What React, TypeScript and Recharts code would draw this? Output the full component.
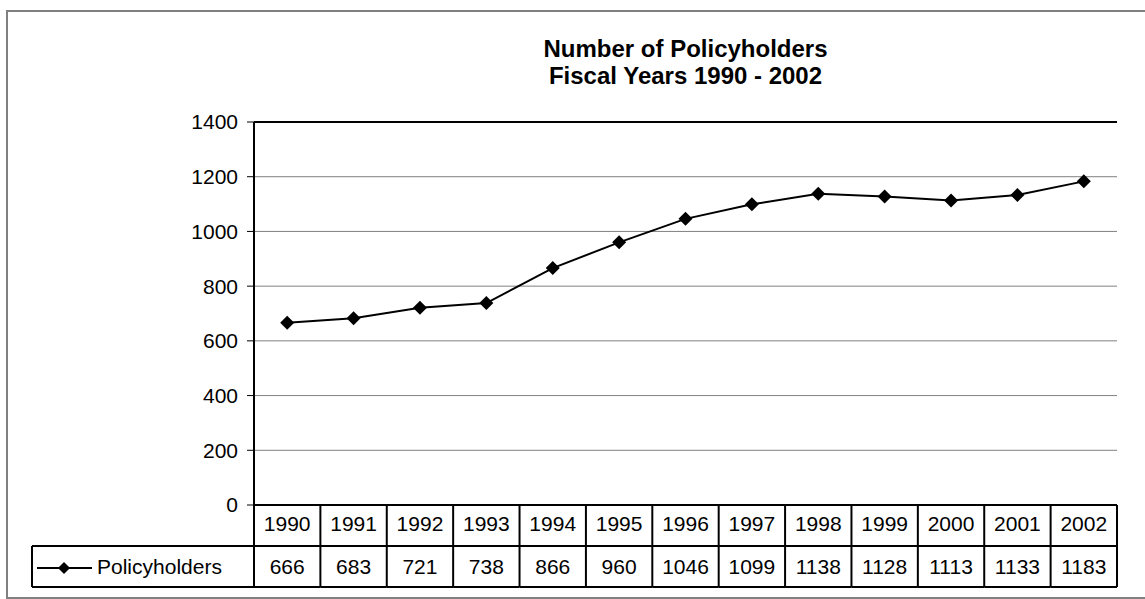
import React from "react";
import {
  LineChart,
  Line,
  XAxis,
  YAxis,
  CartesianGrid,
  ReferenceLine,
} from "recharts";

const years = ["1990", "1991", "1992", "1993", "1994", "1995", "1996", "1997", "1998", "1999", "2000", "2001", "2002"];
const policyholders = [666, 683, 721, 738, 866, 960, 1046, 1099, 1138, 1128, 1113, 1133, 1183];
const yTicks = [0, 200, 400, 600, 800, 1000, 1200, 1400];
const seriesName = "Policyholders";

const data = years.map((y, i) => ({ year: y, value: policyholders[i] }));

const W = 1145;
const H = 599;
const PLOT_LEFT = 254;
const PLOT_RIGHT = 1117;
const PLOT_TOP = 122;
const PLOT_BOTTOM = 505;
const BAND = (PLOT_RIGHT - PLOT_LEFT) / years.length;
const ROW_H = 41;
const LEGEND_LEFT = 32;
const FONT = "'Liberation Sans', Arial, sans-serif";

function Diamond({ cx, cy, r = 7 }: { cx: number; cy: number; r?: number }) {
  return <path d={`M${cx},${cy - r}L${cx + r},${cy}L${cx},${cy + r}L${cx - r},${cy}Z`} fill="#000" />;
}

// draws one column of the data table under each category
function TableTick(props: any) {
  const { x, y, payload, index } = props;
  const left = x - BAND / 2;
  const right = x + BAND / 2;
  const top = y;
  const mid = y + ROW_H;
  const bottom = y + ROW_H * 2;
  return (
    <g>
      {index === 0 && (
        <g>
          <line x1={left} y1={top} x2={left} y2={bottom} stroke="#000" strokeWidth={2} />
          <line x1={LEGEND_LEFT} y1={mid} x2={left} y2={mid} stroke="#000" strokeWidth={2} />
          <line x1={LEGEND_LEFT} y1={bottom} x2={left} y2={bottom} stroke="#000" strokeWidth={2} />
          <line x1={LEGEND_LEFT} y1={mid} x2={LEGEND_LEFT} y2={bottom} stroke="#000" strokeWidth={2} />
          <line x1={37} y1={mid + 22} x2={92} y2={mid + 22} stroke="#000" strokeWidth={2} />
          <Diamond cx={64} cy={mid + 22} r={6} />
          <text x={97} y={mid + 28} fontSize={21} fontFamily={FONT} fill="#000">
            {seriesName}
          </text>
        </g>
      )}
      <line x1={right} y1={top} x2={right} y2={bottom} stroke="#000" strokeWidth={2} />
      <line x1={left} y1={mid} x2={right} y2={mid} stroke="#000" strokeWidth={2} />
      <line x1={left} y1={bottom} x2={right} y2={bottom} stroke="#000" strokeWidth={2} />
      <text x={x} y={top + 26} textAnchor="middle" fontSize={21} fontFamily={FONT} fill="#000">
        {payload.value}
      </text>
      <text x={x} y={mid + 28} textAnchor="middle" fontSize={21} fontFamily={FONT} fill="#000">
        {policyholders[index]}
      </text>
    </g>
  );
}

export default function App() {
  return (
    <div style={{ position: "absolute", left: 0, top: 0, width: W, height: H, background: "#fff", fontFamily: FONT }}>
      <div
        style={{
          position: "absolute",
          left: 6,
          top: 10,
          width: 1137,
          height: 585,
          border: "2px solid #808080",
        }}
      />
      <div
        style={{
          position: "absolute",
          left: PLOT_LEFT,
          width: PLOT_RIGHT - PLOT_LEFT,
          top: 35,
          textAlign: "center",
          fontWeight: "bold",
          fontSize: 24,
          lineHeight: "27px",
          color: "#000",
        }}
      >
        <div>Number of Policyholders</div>
        <div>Fiscal Years 1990 - 2002</div>
      </div>
      <LineChart
        width={W}
        height={H}
        data={data}
        margin={{ top: PLOT_TOP, right: W - PLOT_RIGHT, left: PLOT_LEFT - 60, bottom: 10 }}
        style={{ position: "absolute", left: 0, top: 0 }}
      >
        <CartesianGrid horizontal vertical={false} stroke="#808080" strokeWidth={1} />
        <XAxis
          dataKey="year"
          interval={0}
          height={H - PLOT_BOTTOM - 10}
          padding={{ left: BAND / 2, right: BAND / 2 }}
          tickSize={0}
          tickMargin={0}
          tickLine={false}
          axisLine={{ stroke: "#000", strokeWidth: 2 }}
          tick={<TableTick />}
        />
        <YAxis
          width={60}
          domain={[0, 1400]}
          ticks={yTicks}
          interval={0}
          tickSize={7}
          tickMargin={9}
          tickLine={{ stroke: "#000", strokeWidth: 1 }}
          axisLine={{ stroke: "#000", strokeWidth: 2 }}
          tick={{ fill: "#000", fontSize: 21, fontFamily: FONT }}
        />
        <YAxis
          yAxisId="right"
          orientation="right"
          width={0}
          domain={[0, 1400]}
          tick={false}
          tickLine={false}
          axisLine={{ stroke: "#000", strokeWidth: 2 }}
        />
        <ReferenceLine y={1400} stroke="#000" strokeWidth={2} />
        <Line
          type="linear"
          dataKey="value"
          name={seriesName}
          stroke="#000"
          strokeWidth={2}
          isAnimationActive={false}
          dot={(p: any) => <Diamond key={p.index} cx={p.cx} cy={p.cy} />}
        />
      </LineChart>
    </div>
  );
}
